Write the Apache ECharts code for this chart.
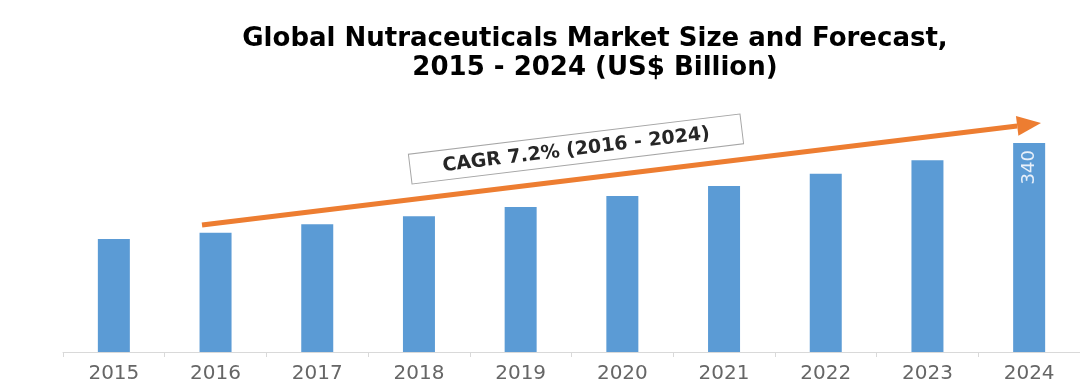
<!DOCTYPE html>
<html>
<head>
<meta charset="utf-8">
<script src="https://cdn.jsdelivr.net/npm/echarts@6/dist/echarts.min.js"></script>
<style>
html,body{margin:0;padding:0;background:#fff;}
#chart{width:1080px;height:391px;}
</style>
</head>
<body>
<div id="chart"></div>
<script>
var titleText = 'Global Nutraceuticals Market Size and Forecast,\n2015 - 2024 (US$ Billion)';
var years = ['2015','2016','2017','2018','2019','2020','2021','2022','2023','2024'];
var marketSize = [184, 194, 208, 221, 236, 254, 270, 290, 312, 340];
var labelledYear = '2024';
var cagrText = 'CAGR 7.2% (2016 - 2024)';

var chart = echarts.init(document.getElementById('chart'));

var barData = marketSize.map(function (v, i) {
  var item = { value: v };
  if (years[i] === labelledYear) {
    item.label = {
      show: true, position: 'insideTop', rotate: 90, align: 'right', verticalAlign: 'middle',
      distance: 7, color: '#e8f0fa', fontSize: 18, fontFamily: 'DejaVu Sans'
    };
  }
  return item;
});

// arrow geometry (annotation)
var ax0 = 202, ay0 = 225, ax1 = 1041, ay1 = 123;
var dx = ax1 - ax0, dy = ay1 - ay0, len = Math.sqrt(dx*dx + dy*dy);
var ux = dx/len, uy = dy/len, px = -uy, py = ux;
var headLen = 24, headHalf = 10;
var bx = ax1 - headLen*ux, by = ay1 - headLen*uy;

chart.setOption({
  animation: false,
  title: {
    text: titleText,
    left: 590, top: 20, textAlign: 'center',
    textStyle: { fontFamily: 'DejaVu Sans', fontWeight: 'bold', fontSize: 26, lineHeight: 29, color: '#000' }
  },
  grid: { left: 63, width: 1019, top: 100, bottom: 39, containLabel: false },
  xAxis: {
    type: 'category',
    data: years,
    axisLine: { lineStyle: { color: '#d9d9d9', width: 1 } },
    axisTick: { show: true, alignWithLabel: false, length: 5, lineStyle: { color: '#d9d9d9' } },
    axisLabel: { color: '#666666', fontSize: 20, fontFamily: 'DejaVu Sans', margin: 12 }
  },
  yAxis: {
    type: 'value', min: 0, max: 410, show: false,
    splitLine: { show: false }
  },
  series: [{
    type: 'bar',
    data: barData,
    barWidth: 32,
    itemStyle: { color: '#5b9bd5' }
  }],
  graphic: [
    {
      type: 'line', z: 10,
      shape: { x1: ax0, y1: ay0, x2: bx, y2: by },
      style: { stroke: '#ed7d31', lineWidth: 5 }
    },
    {
      type: 'polygon', z: 10,
      shape: { points: [[ax1, ay1], [bx + headHalf*px, by + headHalf*py], [bx - headHalf*px, by - headHalf*py]] },
      style: { fill: '#ed7d31' }
    },
    {
      type: 'group', x: 576, y: 149, rotation: Math.atan2(-dy, dx), z: 11,
      children: [
        { type: 'rect', shape: { x: -167, y: -15, width: 334, height: 30 },
          style: { fill: '#fff', stroke: '#a6a6a6', lineWidth: 1 } },
        { type: 'text', x: 0, y: 1,
          style: { text: cagrText, x: 0, y: 0, align: 'center', verticalAlign: 'middle',
                   font: 'bold 19px "DejaVu Sans"', fill: '#262626' } }
      ]
    }
  ]
});
</script>
</body>
</html>
